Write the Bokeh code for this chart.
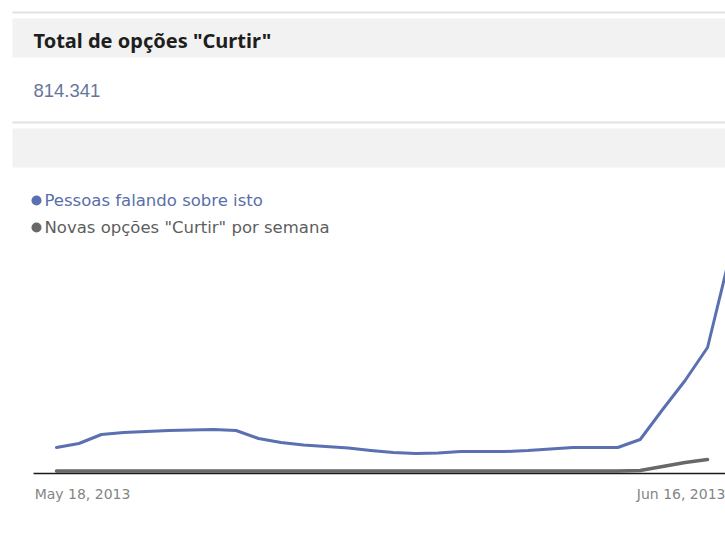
from bokeh.plotting import figure
from bokeh.models import Range1d, FixedTicker
from bokeh.core.properties import value
from bokeh.embed import file_html
from bokeh.resources import INLINE

# ---------------- data ----------------
title_text = 'Total de opções "Curtir"'
total_likes = "814.341"
series_names = ["Pessoas falando sobre isto", 'Novas opções "Curtir" por semana']

dates = ["2013-05-18", "2013-05-19", "2013-05-20", "2013-05-21", "2013-05-22",
         "2013-05-23", "2013-05-24", "2013-05-25", "2013-05-26", "2013-05-27",
         "2013-05-28", "2013-05-29", "2013-05-30", "2013-05-31", "2013-06-01",
         "2013-06-02", "2013-06-03", "2013-06-04", "2013-06-05", "2013-06-06",
         "2013-06-07", "2013-06-08", "2013-06-09", "2013-06-10", "2013-06-11",
         "2013-06-12", "2013-06-13", "2013-06-14", "2013-06-15", "2013-06-16",
         "2013-06-17"]

pessoas = [26000, 30000, 39000, 41000, 42000, 43000, 43500, 44000, 43000, 35000,
           31000, 28500, 27000, 25500, 23000, 21000, 20000, 20500, 22000, 22000,
           22000, 23000, 24500, 26000, 26000, 26000, 34000, 64000, 93000, 126000,
           218000]

novas = [2500, 2500, 2500, 2500, 2500, 2500, 2500, 2500, 2500, 2500,
         2500, 2500, 2500, 2500, 2500, 2500, 2500, 2500, 2500, 2500,
         2500, 2500, 2500, 2500, 2500, 2600, 3000, 7000, 11000, 14000,
         float("nan")]

tick_labels = ["May 18, 2013", "Jun 16, 2013"]

# ---------------- derived ----------------
days = list(range(len(dates)))
label_days = [days[dates.index("2013-05-18")] + 1.16, days[dates.index("2013-06-16")] - 0.94]

BLUE = "#5a70b0"
GREY = "#686868"
FONT = "DejaVu Sans"

W, H = 725, 533
BOTTOM = 60  # axis panel height

# ---------------- figure ----------------
p = figure(width=W, height=H, x_range=Range1d(-2.494, 29.80), y_range=Range1d(0, 473000),
           y_axis_location=None, toolbar_location=None, output_backend="svg",
           min_border_left=0, min_border_right=0, min_border_top=0,
           min_border_bottom=BOTTOM, outline_line_color=None)
p.grid.visible = False

# pixel-space ranges for the page header decoration
p.extra_x_ranges = {"px": Range1d(0, W)}
p.extra_y_ranges = {"py": Range1d(H - BOTTOM, 0)}
hx = dict(x_range_name="px", y_range_name="py")

p.segment(x0=[12, 12], y0=[12, 122], x1=[W, W], y1=[12, 122],
          line_color="#e2e2e2", line_width=2, **hx)
p.quad(left=[12, 12], right=[W, W], top=[18, 128], bottom=[57, 167],
       fill_color="#f2f2f2", line_color=None, **hx)

p.text(x=[33], y=[40], text=[title_text], text_font=value("Noto Sans"),
       text_font_style="bold", text_font_size="20px", text_color="#1e1e1e",
       text_baseline="middle", text_align="left", **hx)
p.text(x=[33], y=[90], text=[total_likes], text_font=value("Liberation Sans"),
       text_font_size="18.5px", text_color="#66769a",
       text_baseline="middle", text_align="left", **hx)

p.scatter(x=[36, 36], y=[200, 227], size=10, marker="circle",
          fill_color=[BLUE, GREY], line_color=None, **hx)
p.text(x=[44, 44], y=[200, 227], text=series_names, text_font=value(FONT),
       text_font_size="16.5px", text_color=["#5a6ea8", "#5e5e5e"],
       text_baseline="middle", text_align="left", **hx)

# ---------------- data lines ----------------
p.line(days, novas, line_color=GREY, line_width=3.5, line_cap="round", line_join="round")
p.line(days, pessoas, line_color=BLUE, line_width=3, line_cap="round", line_join="round")

ax = p.xaxis[0]
ax.bounds = (-1.0245, 29.80)
ax.ticker = FixedTicker(ticks=label_days)
ax.major_label_overrides = {label_days[0]: tick_labels[0], label_days[1]: tick_labels[1]}
ax.axis_line_color = "#1a1a1a"
ax.axis_line_width = 1.3
ax.major_tick_line_color = None
ax.minor_tick_line_color = None
ax.major_tick_out = 0
ax.major_tick_in = 0
ax.major_label_standoff = 12
ax.major_label_text_font = FONT
ax.major_label_text_font_size = "14px"
ax.major_label_text_color = "#858585"

with open("out.html", "w") as f:
    f.write(file_html(p, INLINE))
